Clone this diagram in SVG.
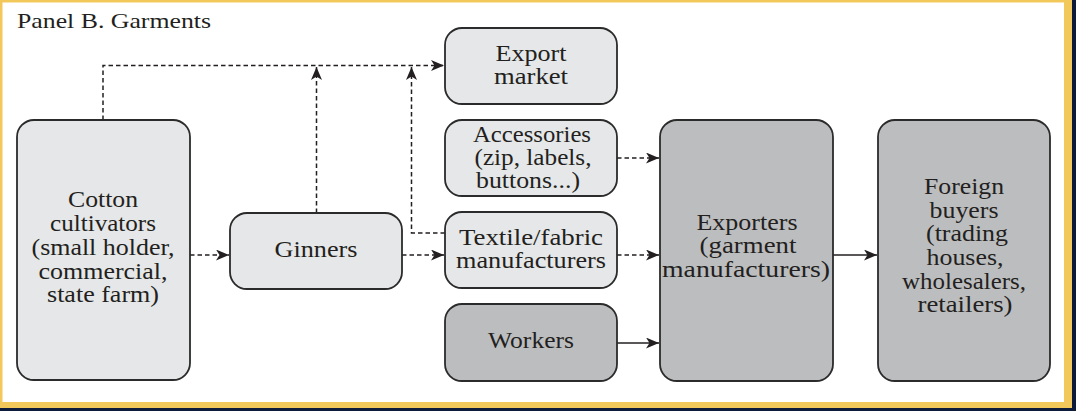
<svg xmlns="http://www.w3.org/2000/svg" width="1076" height="411" viewBox="0 0 1076 411">
  <style>
    .light { fill: #e6e7e8; stroke: #2b2b2b; stroke-width: 1.8; }
    .dark { fill: #bcbdbf; stroke: #2b2b2b; stroke-width: 1.8; }
    text { font-family: "Liberation Serif", "Times New Roman", serif; font-size: 23px; fill: #231f20; text-anchor: middle; }
    .title { text-anchor: start; font-size: 22px; }
    .dash { fill: none; stroke: #231f20; stroke-width: 1.5; stroke-dasharray: 4.5 3; }
    .solid { fill: none; stroke: #231f20; stroke-width: 1.5; }
  </style>
  <defs>
    <marker id="arrow" viewBox="0 0 13 11" refX="13" refY="5.5" markerWidth="13" markerHeight="11" markerUnits="userSpaceOnUse" orient="auto">
      <path d="M0,0 L13,5.5 L0,11 L3.5,5.5 z" fill="#231f20"/>
    </marker>
  </defs>

  <!-- page frame -->
  <rect x="0" y="0" width="1076" height="411" fill="#f2c85b"/>
  <rect x="1072" y="0" width="4" height="411" fill="#0d1a3a"/>
  <rect x="0" y="408" width="1076" height="3" fill="#0d1a3a"/>
  <rect x="2.5" y="2.5" width="1061.5" height="399.5" fill="#ffffff"/>

  <text class="title" x="17" y="28" textLength="194" lengthAdjust="spacingAndGlyphs">Panel B. Garments</text>

  <!-- connectors -->
  <g id="connectors">
    <path class="dash" d="M103,120 V65.5 H444" marker-end="url(#arrow)"/>
    <path class="dash" d="M316.5,213 V67" marker-end="url(#arrow)"/>
    <path class="dash" d="M445,233 H411.5 V67" marker-end="url(#arrow)"/>
    <path class="dash" d="M190,255 H229" marker-end="url(#arrow)"/>
    <path class="dash" d="M402,255 H444" marker-end="url(#arrow)"/>
    <path class="dash" d="M617,158 H659" marker-end="url(#arrow)"/>
    <path class="dash" d="M617,255 H659" marker-end="url(#arrow)"/>
    <path class="solid" d="M617,343 H659" marker-end="url(#arrow)"/>
    <path class="solid" d="M833,255 H877" marker-end="url(#arrow)"/>
  </g>

  <g id="cotton">
    <rect class="light" x="17" y="120" width="173" height="260" rx="17"/>
    <text x="103" y="207" textLength="70" lengthAdjust="spacingAndGlyphs">Cotton</text>
    <text x="103" y="231" textLength="106" lengthAdjust="spacingAndGlyphs">cultivators</text>
    <text x="103" y="255" textLength="143" lengthAdjust="spacingAndGlyphs">(small holder,</text>
    <text x="103" y="279" textLength="129" lengthAdjust="spacingAndGlyphs">commercial,</text>
    <text x="103" y="302" textLength="112" lengthAdjust="spacingAndGlyphs">state farm)</text>
  </g>

  <g id="ginners">
    <rect class="light" x="230" y="213" width="172" height="76" rx="17"/>
    <text x="316" y="257" textLength="83" lengthAdjust="spacingAndGlyphs">Ginners</text>
  </g>

  <g id="export-market">
    <rect class="light" x="445" y="28" width="172" height="76" rx="17"/>
    <text x="531" y="61" textLength="71" lengthAdjust="spacingAndGlyphs">Export</text>
    <text x="531" y="84" textLength="74" lengthAdjust="spacingAndGlyphs">market</text>
  </g>

  <g id="accessories">
    <rect class="light" x="445" y="120" width="172" height="76" rx="17"/>
    <text x="532" y="142" textLength="118" lengthAdjust="spacingAndGlyphs">Accessories</text>
    <text x="533" y="165" textLength="117" lengthAdjust="spacingAndGlyphs">(zip, labels,</text>
    <text x="528" y="188" textLength="104" lengthAdjust="spacingAndGlyphs">buttons...)</text>
  </g>

  <g id="textile">
    <rect class="light" x="445" y="212" width="172" height="76" rx="17"/>
    <text x="531" y="245" textLength="144" lengthAdjust="spacingAndGlyphs">Textile/fabric</text>
    <text x="531" y="268" textLength="150" lengthAdjust="spacingAndGlyphs">manufacturers</text>
  </g>

  <g id="workers">
    <rect class="dark" x="445" y="304" width="172" height="77" rx="17"/>
    <text x="531" y="348" textLength="86" lengthAdjust="spacingAndGlyphs">Workers</text>
  </g>

  <g id="exporters">
    <rect class="dark" x="660" y="120" width="173" height="261" rx="17"/>
    <text x="747" y="230" textLength="101" lengthAdjust="spacingAndGlyphs">Exporters</text>
    <text x="748" y="253" textLength="97" lengthAdjust="spacingAndGlyphs">(garment</text>
    <text x="746" y="277" textLength="168" lengthAdjust="spacingAndGlyphs">manufacturers)</text>
  </g>

  <g id="foreign-buyers">
    <rect class="dark" x="878" y="120" width="172" height="261" rx="17"/>
    <text x="964" y="194" textLength="80" lengthAdjust="spacingAndGlyphs">Foreign</text>
    <text x="964" y="218" textLength="69" lengthAdjust="spacingAndGlyphs">buyers</text>
    <text x="967" y="241" textLength="82" lengthAdjust="spacingAndGlyphs">(trading</text>
    <text x="965" y="265" textLength="77" lengthAdjust="spacingAndGlyphs">houses,</text>
    <text x="964" y="289" textLength="124" lengthAdjust="spacingAndGlyphs">wholesalers,</text>
    <text x="965" y="312" textLength="95" lengthAdjust="spacingAndGlyphs">retailers)</text>
  </g>
</svg>
